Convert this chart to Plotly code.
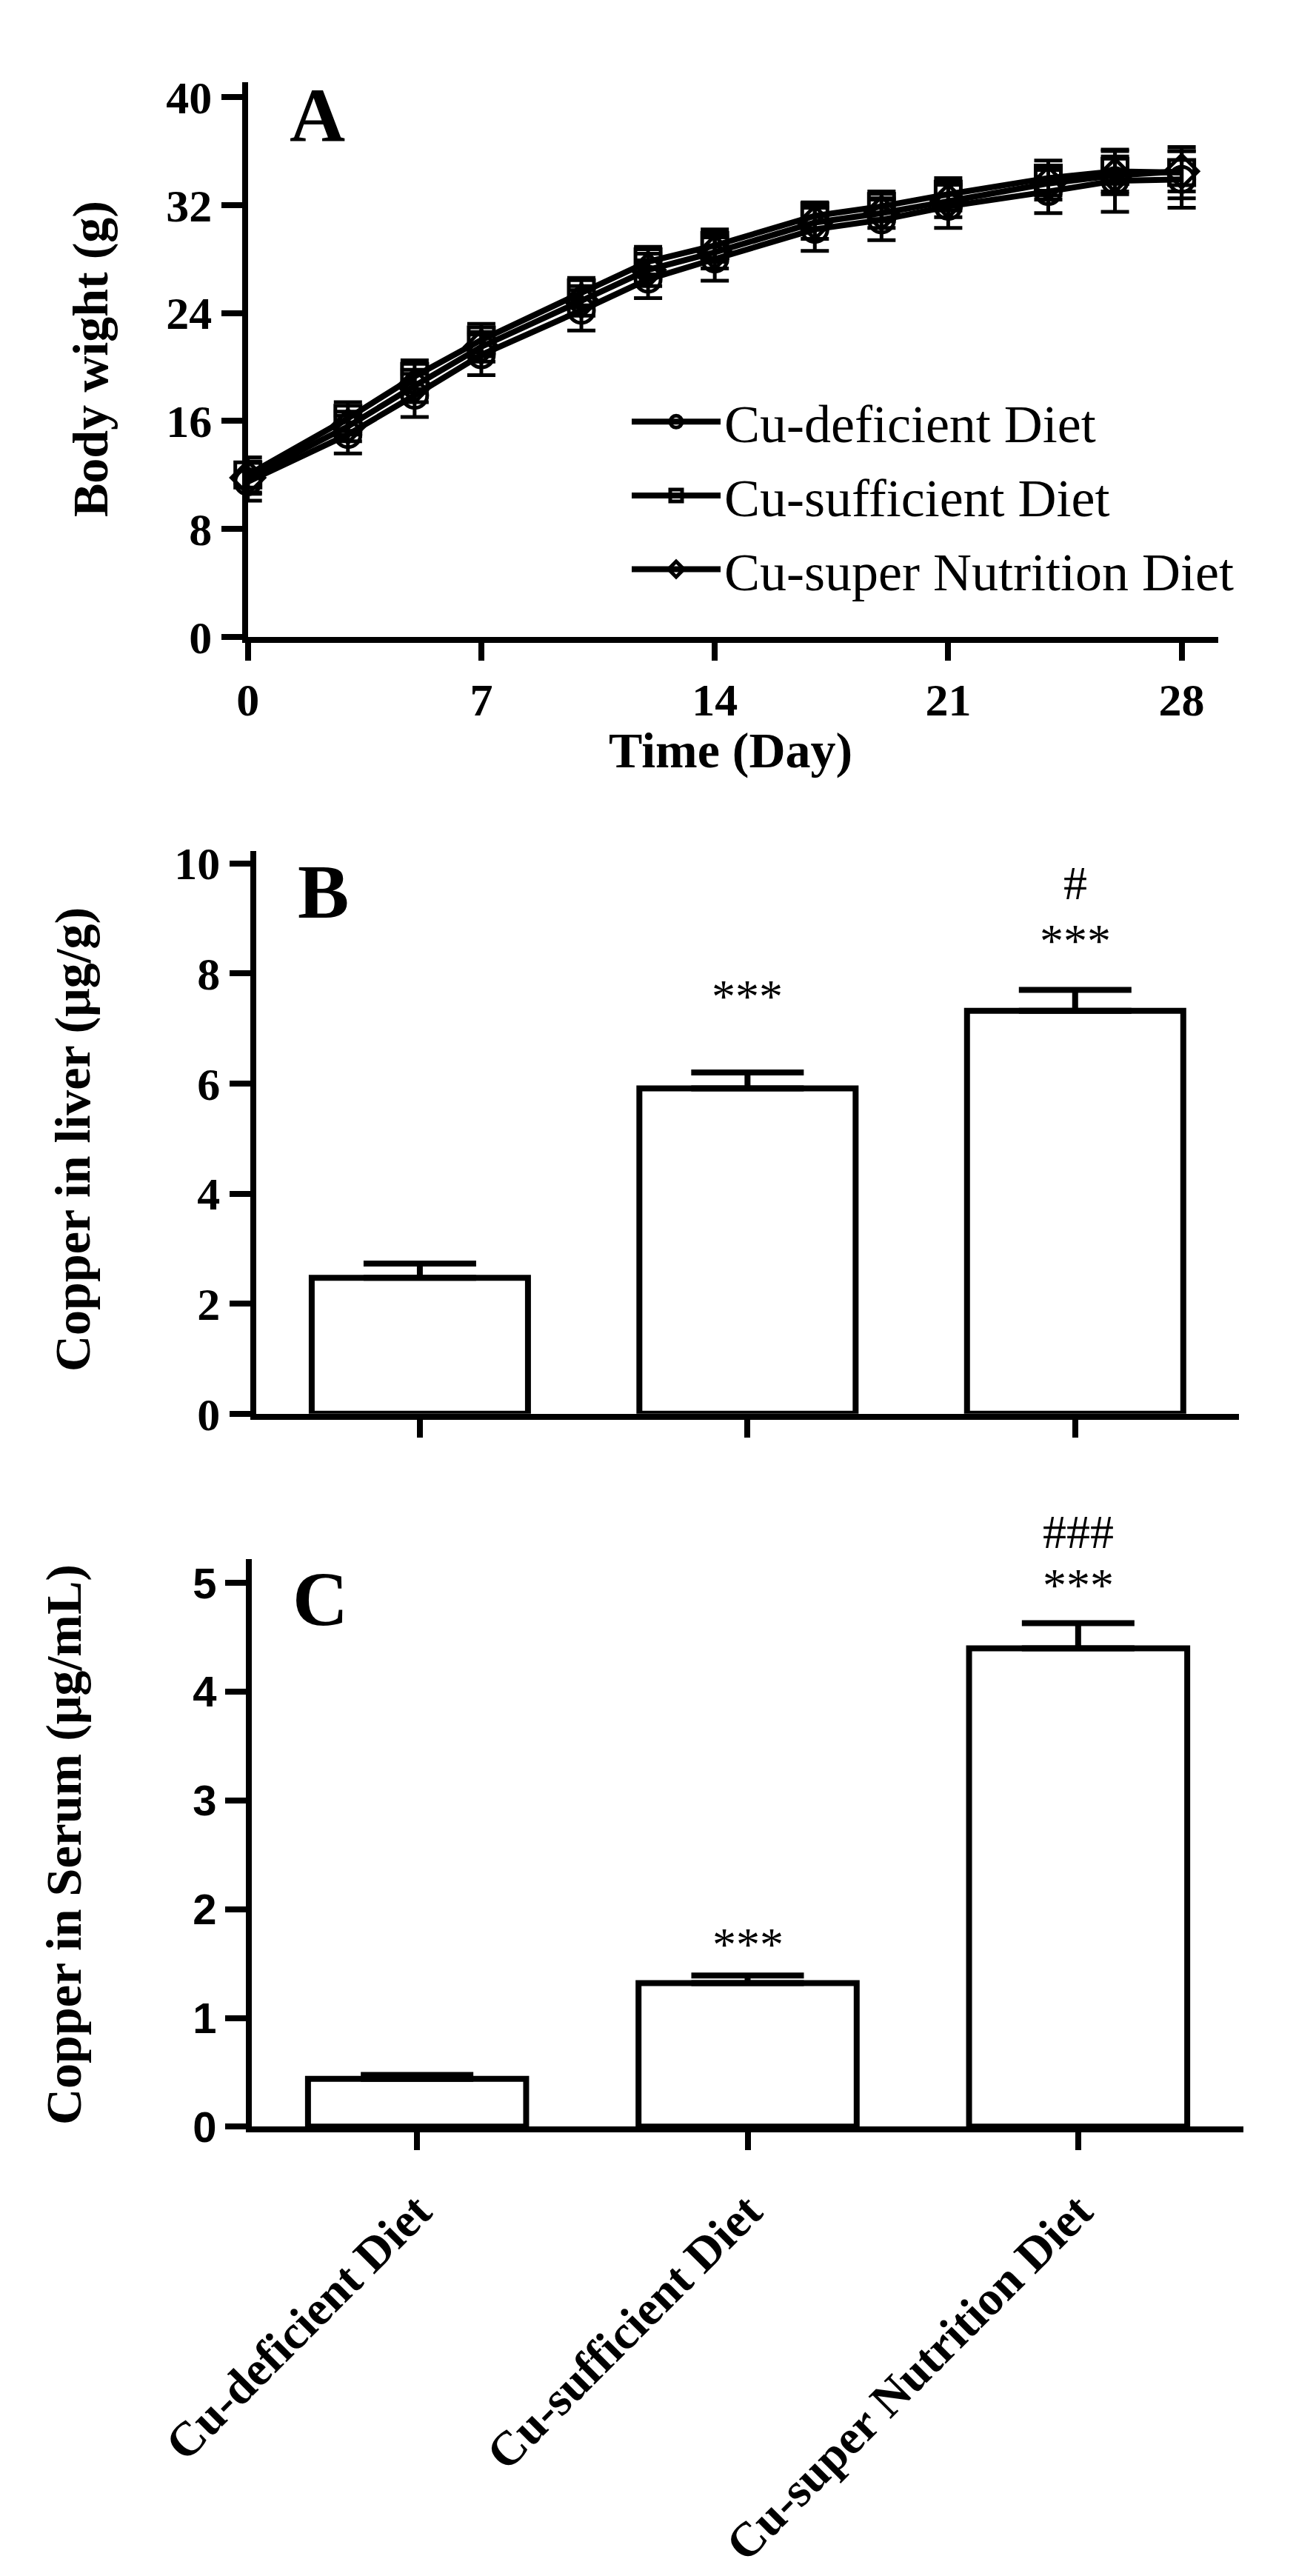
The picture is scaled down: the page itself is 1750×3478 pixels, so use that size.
import plotly.graph_objects as go

W, H = 1750, 3478

# ---- Panel A: body weight over time ----
days = [0, 3, 5, 7, 10, 12, 14, 17, 19, 21, 24, 26, 28]
series_names = ["Cu-deficient Diet", "Cu-sufficient Diet", "Cu-super Nutrition Diet"]
def_mean = [11.5, 15.0, 17.9, 20.9, 24.2, 26.5, 28.0, 30.2, 30.9, 31.9, 33.0, 33.8, 33.9]
def_sem = [1.4, 1.4, 1.6, 1.5, 1.5, 1.4, 1.6, 1.6, 1.5, 1.6, 1.6, 2.3, 2.1]
suf_mean = [12.0, 16.2, 19.3, 22.0, 25.5, 27.8, 29.0, 31.2, 31.9, 32.8, 34.0, 34.5, 34.4]
suf_sem = [1.3, 1.2, 1.2, 1.2, 1.1, 1.1, 1.2, 1.0, 1.1, 1.2, 1.3, 1.5, 1.9]
sup_mean = [11.8, 15.6, 18.6, 21.5, 24.9, 27.2, 28.5, 30.7, 31.4, 32.3, 33.6, 34.2, 34.5]
sup_sem = [1.2, 1.1, 1.2, 1.1, 1.1, 1.2, 1.2, 1.2, 1.1, 1.2, 1.2, 1.4, 1.5]

# ---- Panel B / C: copper content ----
groups = ["Cu-deficient Diet", "Cu-sufficient Diet", "Cu-super Nutrition Diet"]
liver_mean = [2.47, 5.91, 7.32]
liver_sem = [0.26, 0.29, 0.38]
liver_sig = ["", "***", "***"]
liver_sig2 = ["", "", "#"]
serum_mean = [0.44, 1.32, 4.40]
serum_sem = [0.035, 0.07, 0.23]
serum_sig = ["", "***", "***"]
serum_sig2 = ["", "", "###"]

SERIF = "Liberation Serif"
SANS = "Liberation Sans"


def px_x(x):
    return x / W


def px_y(y):
    return 1 - y / H


fig = go.Figure()

symbols = ["circle-open", "square-open", "diamond-open"]
means = [def_mean, suf_mean, sup_mean]
sems = [def_sem, suf_sem, sup_sem]
for name, sym, m, s in zip(series_names, symbols, means, sems):
    fig.add_trace(go.Scatter(
        x=days, y=m, name=name, mode="lines+markers",
        legendgroup=name,
        line=dict(color="black", width=8),
        marker=dict(symbol=sym, size=34, color="black", line=dict(width=5, color="black")),
        error_y=dict(type="data", array=s, visible=True, color="black", thickness=5, width=19),
        cliponaxis=False,
        xaxis="x", yaxis="y",
    ))

bar_style = dict(marker=dict(color="white", line=dict(color="black", width=8)),
                 showlegend=False)

fig.add_trace(go.Bar(
    x=[0, 1, 2], y=liver_mean, xaxis="x2", yaxis="y2",
    error_y=dict(type="data", array=liver_sem, arrayminus=[0, 0, 0], symmetric=False,
                 color="black", thickness=8, width=76),
    **bar_style))
fig.add_trace(go.Bar(
    x=[0, 1, 2], y=serum_mean, xaxis="x3", yaxis="y3",
    error_y=dict(type="data", array=serum_sem, arrayminus=[0, 0, 0], symmetric=False,
                 color="black", thickness=8, width=76),
    **bar_style))

axis_common = dict(showline=True, linewidth=8, linecolor="black", ticks="outside",
                   tickwidth=8, tickcolor="black", showgrid=False, zeroline=False,
                   automargin=False)
tickfont_serif = dict(family=SERIF, size=62, color="black", weight="bold")
tickfont_sans = dict(family=SANS, size=58, color="black", weight="bold")

fig.update_layout(
    template="none",
    width=W, height=H,
    margin=dict(l=0, r=0, t=0, b=0, autoexpand=False),
    paper_bgcolor="white", plot_bgcolor="white",
    bargap=0.34,
    showlegend=True,
    legend=dict(x=px_x(840), y=px_y(508), xanchor="left", yanchor="top",
                font=dict(family=SERIF, size=72, color="black"),
                bgcolor="rgba(0,0,0,0)", borderwidth=0, itemwidth=120,
                traceorder="grouped", tracegroupgap=3),
    xaxis=dict(domain=[px_x(326.7), px_x(1636.7)], range=[0, 29.09],
               tickvals=[0, 7, 14, 21, 28], ticklen=24, tickfont=tickfont_serif,
               anchor="y", **axis_common),
    yaxis=dict(domain=[px_y(852), px_y(103)], range=[0, 41.1],
               tickvals=[0, 8, 16, 24, 32, 40], ticklen=28, tickfont=tickfont_serif,
               anchor="x", **axis_common),
    xaxis2=dict(domain=[px_x(337.7), px_x(1665)], range=[-0.5, 2.5],
                tickvals=[0, 1, 2], showticklabels=False, ticklen=24,
                anchor="y2", **axis_common),
    yaxis2=dict(domain=[px_y(1900.8), px_y(1141.3)], range=[0, 10.22],
                tickvals=[0, 2, 4, 6, 8, 10], ticklen=28, tickfont=tickfont_serif,
                anchor="x2", **axis_common),
    xaxis3=dict(domain=[px_x(332), px_x(1671)], range=[-0.5, 2.5],
                tickvals=[0, 1, 2], ticktext=groups, tickangle=-45, ticklen=24,
                ticklabelstandoff=18,
                tickfont=dict(family=SERIF, size=65, color="black", weight="bold"),
                anchor="y3", **axis_common),
    yaxis3=dict(domain=[px_y(2863.3), px_y(2097)], range=[0, 5.22],
                tickvals=[0, 1, 2, 3, 4, 5], ticklen=28, tickfont=tickfont_sans,
                anchor="x3", **axis_common),
)

title_font = dict(family=SERIF, size=68, color="black", weight="bold")
letter_font = dict(family=SERIF, size=104, color="black", weight="bold")
annotations = [
    # axis titles
    dict(text="Body wight (g)", x=px_x(114), y=px_y(477), textangle=-90, font=title_font),
    dict(text="Time (Day)", x=px_x(978), y=px_y(1005), font=title_font),
    dict(text="Copper in liver (μg/g)", x=px_x(90), y=px_y(1531), textangle=-90, font=title_font),
    dict(text="Copper in Serum (μg/mL)", x=px_x(78), y=px_y(2483), textangle=-90, font=title_font),
    # panel letters
    dict(text="A", x=px_x(420), y=px_y(148), font=letter_font),
    dict(text="B", x=px_x(428), y=px_y(1195), font=letter_font),
    dict(text="C", x=px_x(424), y=px_y(2150), font=letter_font),
]
for a in annotations:
    a.update(xref="paper", yref="paper", showarrow=False, xanchor="center", yanchor="middle")

sig_font = dict(family=SERIF, size=64, color="black")
# significance marks above the error bars (pixel shifts above the cap)
liver_shift = [0, 103, 66]
liver_shift2 = [0, 0, 144]
serum_shift = [0, 42, 51]
serum_shift2 = [0, 0, 123]
for i in range(3):
    top_b = liver_mean[i] + liver_sem[i]
    top_c = serum_mean[i] + serum_sem[i]
    if liver_sig[i]:
        annotations.append(dict(text=liver_sig[i], x=i, y=top_b, xref="x2", yref="y2",
                                yshift=liver_shift[i], showarrow=False, font=sig_font))
    if liver_sig2[i]:
        annotations.append(dict(text=liver_sig2[i], x=i, y=top_b, xref="x2", yref="y2",
                                yshift=liver_shift2[i], showarrow=False, font=sig_font))
    if serum_sig[i]:
        annotations.append(dict(text=serum_sig[i], x=i, y=top_c, xref="x3", yref="y3",
                                yshift=serum_shift[i], showarrow=False, font=sig_font))
    if serum_sig2[i]:
        annotations.append(dict(text=serum_sig2[i], x=i, y=top_c, xref="x3", yref="y3",
                                yshift=serum_shift2[i], showarrow=False, font=sig_font))

fig.update_layout(annotations=annotations)

fig.write_html("out.html")
